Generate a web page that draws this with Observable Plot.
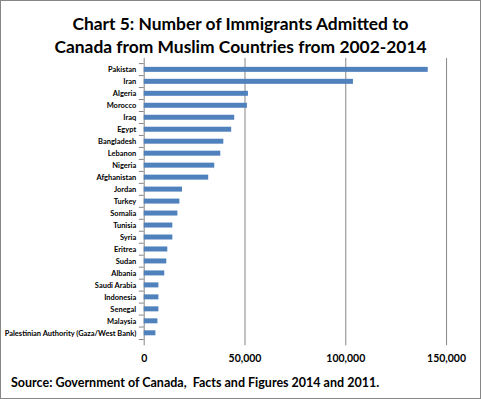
<!DOCTYPE html>
<html><head><meta charset="utf-8">
<script src="https://cdn.jsdelivr.net/npm/d3@7"></script>
<script src="https://cdn.jsdelivr.net/npm/@observablehq/plot@0.6"></script>
<style>
html,body{margin:0;padding:0;background:#fff;}
#wrap{position:relative;width:481px;height:399px;box-sizing:border-box;border:1px solid #868686;background:#fff;overflow:hidden;}
#title{position:absolute;left:0;top:11px;width:479px;text-align:center;font-family:Lato,sans-serif;font-weight:bold;font-size:17.4px;line-height:23px;color:#000;}
#src{position:absolute;left:10px;top:374px;font-family:Lato,sans-serif;font-weight:bold;font-size:12.5px;color:#000;white-space:pre;}
#chart{position:absolute;left:-1px;top:-1px;}
</style></head>
<body>
<div id="wrap">
<div id="chart"></div>
<div id="title">Chart 5: Number of Immigrants Admitted to<br>Canada from Muslim Countries from 2002-2014</div>
<div id="src">Source: Government of Canada,  Facts and Figures 2014 and 2011.</div>
</div>
<script>
const countries = ["Pakistan","Iran","Algeria","Morocco","Iraq","Egypt","Bangladesh","Lebanon","Nigeria","Afghanistan","Jordan","Turkey","Somalia","Tunisia","Syria","Eritrea","Sudan","Albania","Saudi Arabia","Indonesia","Senegal","Malaysia","Palestinian Authority (Gaza/West Bank)"];
const immigrants = [140900,103800,51700,51200,44900,43400,39500,38000,35000,32000,19000,17700,16700,14200,14200,11700,11200,10200,7300,7300,7300,6800,5800];
const xTicks = [0,50000,100000,150000];

const data = countries.map((c,i)=>({country:c, value:immigrants[i]}));
const step = (346-58)/countries.length;

const chart = Plot.plot({
  width: 481, height: 399,
  marginTop: 58, marginBottom: 53, marginLeft: 144, marginRight: 34,
  style: {fontFamily: "Lato, sans-serif", background: "transparent"},
  x: {domain: [0,150000], ticks: xTicks, tickFormat: d3.format(","), label: null},
  y: {domain: countries, padding: 0.58, label: null},
  marks: [
    Plot.ruleX(xTicks.slice(1), {stroke: "#868686", strokeOpacity: 1}),
    Plot.ruleX([0], {stroke: "#868686", strokeOpacity: 1}),
    Plot.ruleY(countries, {y: d=>d, x1: -2400, x2: 0, dy: -step/2, stroke: "#868686"}),
    Plot.ruleY([countries[countries.length-1]], {x1: -2400, x2: 0, dy: step/2, stroke: "#868686"}),
    Plot.barX(data, {x: "value", y: "country", fill: "#4F81BD"}),
    Plot.axisY({tickSize: 0, tickPadding: 8, fontSize: 7.5, fontWeight: "bold", fill: "#000"}),
    Plot.axisX({tickSize: 0, tickPadding: 9, fontSize: 10.5, fontWeight: "bold", fill: "#000"})
  ]
});
document.getElementById("chart").appendChild(chart);
</script>
</body></html>
